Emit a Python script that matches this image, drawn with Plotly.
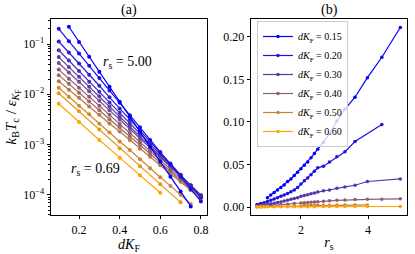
import plotly.graph_objects as go

# ---------------- Panel (a): Tc vs dK_F for several r_s ----------------
dk_a0 = [0.1, 0.2, 0.3, 0.4, 0.5, 0.6]
dk_a1 = [0.1, 0.2, 0.3, 0.4, 0.5, 0.6, 0.7]
dk_a2 = [0.10, 0.15, 0.20, 0.25, 0.30, 0.35, 0.40, 0.45, 0.50, 0.55, 0.60, 0.65, 0.70, 0.75]
dk_full = [0.10, 0.15, 0.20, 0.25, 0.30, 0.35, 0.40, 0.45, 0.50, 0.55, 0.60, 0.65, 0.70, 0.75, 0.80]
dk_a11 = [0.15, 0.20, 0.25, 0.30, 0.35, 0.40, 0.45, 0.50, 0.55, 0.60, 0.65, 0.70, 0.75]

tc_a0 = [6.5e-3, 2.8e-3, 1.23e-3, 5.5e-4, 2.45e-4, 1.1e-4]
tc_a1 = [1.05e-2, 4.6e-3, 2.0e-3, 8.5e-4, 3.7e-4, 1.62e-4, 7.1e-5]
tc_a2 = [1.35e-2, 8.9e-3, 5.9e-3, 4.0e-3, 2.6e-3, 1.74e-3, 1.15e-3, 7.8e-4, 5.1e-4, 3.4e-4,
         2.24e-4, 1.51e-4, 1.0e-4, 6.6e-5]
tc_a3 = [1.82e-2, 1.23e-2, 8.5e-3, 5.75e-3, 3.9e-3, 2.63e-3, 1.82e-3, 1.23e-3, 8.3e-4, 5.75e-4,
         3.9e-4, 2.63e-4, 1.82e-4, 1.23e-4, 8.3e-5]
tc_a4 = [2.4e-2, 1.62e-2, 1.07e-2, 7.2e-3, 4.8e-3, 3.2e-3, 2.2e-3, 1.45e-3, 9.8e-4, 6.5e-4,
         4.4e-4, 2.95e-4, 1.95e-4, 1.32e-4, 8.9e-5]
tc_a5 = [3.1e-2, 2.04e-2, 1.35e-2, 8.9e-3, 5.9e-3, 3.9e-3, 2.57e-3, 1.7e-3, 1.12e-3, 7.4e-4,
         4.9e-4, 3.24e-4, 2.14e-4, 1.41e-4, 9.3e-5]
tc_a6 = [4.2e-2, 2.7e-2, 1.78e-2, 1.15e-2, 7.4e-3, 4.8e-3, 3.16e-3, 2.04e-3, 1.32e-3, 8.7e-4,
         5.6e-4, 3.6e-4, 2.34e-4, 1.55e-4, 1.0e-4]
tc_a7 = [5.5e-2, 3.5e-2, 2.24e-2, 1.41e-2, 9.1e-3, 5.75e-3, 3.6e-3, 2.34e-3, 1.48e-3, 9.5e-4,
         6.0e-4, 3.8e-4, 2.45e-4, 1.55e-4, 9.6e-5]
tc_a8 = [7.5e-2, 4.7e-2, 2.9e-2, 1.78e-2, 1.12e-2, 6.9e-3, 4.3e-3, 2.7e-3, 1.66e-3, 1.02e-3,
         6.3e-4, 4.0e-4, 2.45e-4, 1.51e-4, 9.5e-5]
tc_a9 = [0.112, 6.8e-2, 4.1e-2, 2.45e-2, 1.48e-2, 8.7e-3, 5.2e-3, 3.16e-3, 1.9e-3, 1.15e-3,
         6.9e-4, 4.2e-4, 2.5e-4, 1.51e-4, 8.9e-5]
tc_a10 = [0.2, 0.114, 6.5e-2, 3.7e-2, 2.1e-2, 1.19e-2, 6.8e-3, 3.85e-3, 2.2e-3, 1.24e-3,
          7.1e-4, 4.0e-4, 2.3e-4, 1.3e-4, 7.4e-5]
tc_a11 = [0.22, 0.11, 5.6e-2, 2.8e-2, 1.41e-2, 7.1e-3, 3.6e-3, 1.82e-3, 9.1e-4, 4.6e-4,
          2.3e-4, 1.17e-4, 5.9e-5]

series_a = [
    (dk_a0, tc_a0), (dk_a1, tc_a1), (dk_a2, tc_a2), (dk_full, tc_a3), (dk_full, tc_a4),
    (dk_full, tc_a5), (dk_full, tc_a6), (dk_full, tc_a7), (dk_full, tc_a8), (dk_full, tc_a9),
    (dk_full, tc_a10), (dk_a11, tc_a11),
]

# ---------------- Panel (b): Tc vs r_s for several dK_F ----------------
rs_dense = [1.0, 1.1, 1.2, 1.3, 1.4, 1.5, 1.6, 1.7, 1.8, 1.9, 2.0, 2.1, 2.2, 2.3, 2.4, 2.5,
            2.67, 2.85, 3.07, 3.31, 3.61, 3.98, 4.41, 4.96]
tc_b015 = [0.011, 0.014, 0.017, 0.020, 0.023, 0.026, 0.030, 0.033, 0.037, 0.041, 0.045, 0.049,
           0.053, 0.058, 0.063, 0.068, 0.076, 0.086, 0.101, 0.115, 0.129, 0.152, 0.176, 0.211]

rs_b020 = [0.69, 0.8, 0.9, 1.0, 1.1, 1.2, 1.3, 1.4, 1.5, 1.6, 1.7, 1.8, 1.9, 2.0, 2.1, 2.2,
           2.3, 2.4, 2.5, 2.67, 2.85, 3.07, 3.31, 3.61, 4.41]
tc_b020 = [0.003, 0.004, 0.005, 0.0065, 0.008, 0.0095, 0.011, 0.0125, 0.014, 0.016, 0.018,
           0.020, 0.023, 0.027, 0.031, 0.034, 0.038, 0.042, 0.046, 0.048, 0.053, 0.059, 0.065,
           0.077, 0.097]

rs_b030 = [0.69, 0.8, 0.9, 1.0, 1.1, 1.2, 1.3, 1.4, 1.5, 1.6, 1.7, 1.8, 1.9, 2.0, 2.1, 2.2,
           2.3, 2.4, 2.5, 2.67, 2.85, 3.07, 3.31, 3.61, 3.98, 4.96]
tc_b030 = [0.0012, 0.0017, 0.0022, 0.003, 0.0037, 0.0045, 0.0053, 0.006, 0.007, 0.008, 0.009,
           0.010, 0.011, 0.0125, 0.0135, 0.0145, 0.0155, 0.0165, 0.0175, 0.019, 0.020, 0.022,
           0.0236, 0.0256, 0.030, 0.033]

rs_b040 = [0.69, 0.8, 0.9, 1.0, 1.2, 1.4, 1.6, 1.8, 2.0, 2.1, 2.2, 2.3, 2.4, 2.5, 2.67, 2.85,
           3.07, 3.31, 3.61, 3.98, 4.41, 4.96]
tc_b040 = [0.00055, 0.0008, 0.001, 0.0012, 0.0019, 0.0026, 0.0033, 0.0041, 0.0048, 0.0051,
           0.0054, 0.0057, 0.0060, 0.0062, 0.0068, 0.0073, 0.0078, 0.0082, 0.0088, 0.009,
           0.0092, 0.0096]

rs_b050 = [0.69, 0.8, 0.9, 1.0, 1.2, 1.4, 1.6, 1.8, 2.0, 2.1, 2.2, 2.3, 2.4, 2.5, 2.67, 2.85,
           3.07, 3.31, 3.61, 3.98]
tc_b050 = [0.00025, 0.00032, 0.0004, 0.0005, 0.0007, 0.0009, 0.0011, 0.0013, 0.0016, 0.0017,
           0.0018, 0.0019, 0.0019, 0.002, 0.0021, 0.0022, 0.0023, 0.0024, 0.0024, 0.0025]

rs_b060 = [0.69, 0.8, 0.9, 1.0, 1.2, 1.4, 1.6, 1.8, 2.0, 2.2, 2.4, 2.67, 2.85, 3.07, 3.31,
           3.61, 3.98, 4.96]
tc_b060 = [0.0001, 0.00013, 0.00016, 0.0002, 0.00025, 0.0003, 0.00034, 0.00038, 0.0004,
           0.00042, 0.00044, 0.00047, 0.0005, 0.00052, 0.00054, 0.00056, 0.00058, 0.0006]

dk_labels_b = ["0.15", "0.20", "0.30", "0.40", "0.50", "0.60"]
dk_values_b = [0.15, 0.20, 0.30, 0.40, 0.50, 0.60]
series_b = [(rs_dense, tc_b015), (rs_b020, tc_b020), (rs_b030, tc_b030),
            (rs_b040, tc_b040), (rs_b050, tc_b050), (rs_b060, tc_b060)]

ytick_a_vals = [1e-4, 1e-3, 1e-2, 1e-1]
ytick_a_text = ["10<sup>−4</sup>", "10<sup>−3</sup>", "10<sup>−2</sup>", "10<sup>−1</sup>"]


def mix(t):
    o = (255, 165, 0)
    b = (0, 0, 255)
    c = [round(o[k] + (b[k] - o[k]) * t) for k in range(3)]
    return f"rgb({c[0]},{c[1]},{c[2]})"


W, H = 415, 254


def px(x):
    return x / W


def py(y):
    return 1 - y / H


FONT = "Liberation Serif"
fig = go.Figure()

n_a = len(series_a)
for i, (xs, ys) in enumerate(series_a):
    col = mix(i / (n_a - 1))
    fig.add_trace(go.Scatter(x=xs, y=ys, mode="lines+markers", xaxis="x", yaxis="y",
                             line=dict(color=col, width=1.2),
                             marker=dict(color=col, size=4), showlegend=False))

for lab, dkv, (xs, ys) in zip(dk_labels_b, dk_values_b, series_b):
    col = mix(1 - (dkv - 0.15) / 0.45)
    fig.add_trace(go.Scatter(x=xs, y=ys, mode="lines+markers", xaxis="x2", yaxis="y2",
                             line=dict(color=col, width=1.2),
                             marker=dict(color=col, size=3.5),
                             name=f"<i>dK</i><sub>F</sub> = {lab}"))

minor_a = [m * 10.0 ** e for e in range(-5, 0) for m in range(2, 10)]

axis_common = dict(showline=True, linecolor="black", linewidth=0.9, mirror=True,
                   ticks="outside", ticklen=3.5, tickwidth=0.9, tickcolor="black",
                   showgrid=False, zeroline=False,
                   tickfont=dict(family=FONT, size=12, color="black"))

yd = [py(215), py(19)]
fig.update_layout(
    width=W, height=H, margin=dict(l=0, r=0, t=0, b=0),
    paper_bgcolor="white", plot_bgcolor="white",
    font=dict(family=FONT, size=12, color="black"),
    xaxis=dict(domain=[px(51), px(207)], range=[0.062, 0.83],
               tickvals=[0.2, 0.4, 0.6, 0.8], ticktext=["0.2", "0.4", "0.6", "0.8"],
               title=dict(text="<i>dK</i><sub>F</sub>", standoff=1,
                          font=dict(family=FONT, size=14)),
               anchor="y", **axis_common),
    yaxis=dict(domain=yd, type="log", range=[-4.4, -0.503],
               tickvals=ytick_a_vals, ticktext=ytick_a_text,
               minor=dict(ticks="outside", ticklen=2, tickwidth=0.6, tickcolor="black",
                          tickvals=minor_a, showgrid=False),
               title=dict(text="<i>k</i><sub>B</sub><i>T</i><sub>c</sub> / <i>ε</i><sub><i>K</i><sub>F</sub></sub>",
                          standoff=2, font=dict(family=FONT, size=15)),
               anchor="x", **axis_common),
    xaxis2=dict(domain=[px(251), px(407)], range=[0.51, 5.16],
                tickvals=[2, 4], ticktext=["2", "4"],
                title=dict(text="<i>r</i><sub>s</sub>", standoff=1,
                           font=dict(family=FONT, size=14)),
                anchor="y2", **axis_common),
    yaxis2=dict(domain=yd, range=[-0.0094, 0.221],
                tickvals=[0.0, 0.05, 0.10, 0.15, 0.20],
                ticktext=["0.00", "0.05", "0.10", "0.15", "0.20"],
                anchor="x2", **axis_common),
    legend=dict(x=px(257), y=py(21), xanchor="left", yanchor="top",
                bgcolor="rgba(255,255,255,0.8)", bordercolor="#cccccc", borderwidth=1,
                font=dict(family=FONT, size=10), tracegroupgap=0, itemwidth=30),
    annotations=[
        dict(text="(a)", x=px(129), y=py(10), xref="paper", yref="paper",
             xanchor="center", yanchor="middle",
             showarrow=False, font=dict(family=FONT, size=14)),
        dict(text="(b)", x=px(329), y=py(10), xref="paper", yref="paper",
             xanchor="center", yanchor="middle",
             showarrow=False, font=dict(family=FONT, size=14)),
        dict(text="<i>r</i><sub>s</sub> = 5.00", x=px(127), y=py(62),
             xref="paper", yref="paper", xanchor="center", yanchor="middle",
             showarrow=False, font=dict(family=FONT, size=14)),
        dict(text="<i>r</i><sub>s</sub> = 0.69", x=px(95), y=py(169),
             xref="paper", yref="paper", xanchor="center", yanchor="middle",
             showarrow=False, font=dict(family=FONT, size=14)),
    ],
)

fig.write_html("out.html", config={"displayModeBar": False},
               post_script="document.body.style.margin='0px';")
